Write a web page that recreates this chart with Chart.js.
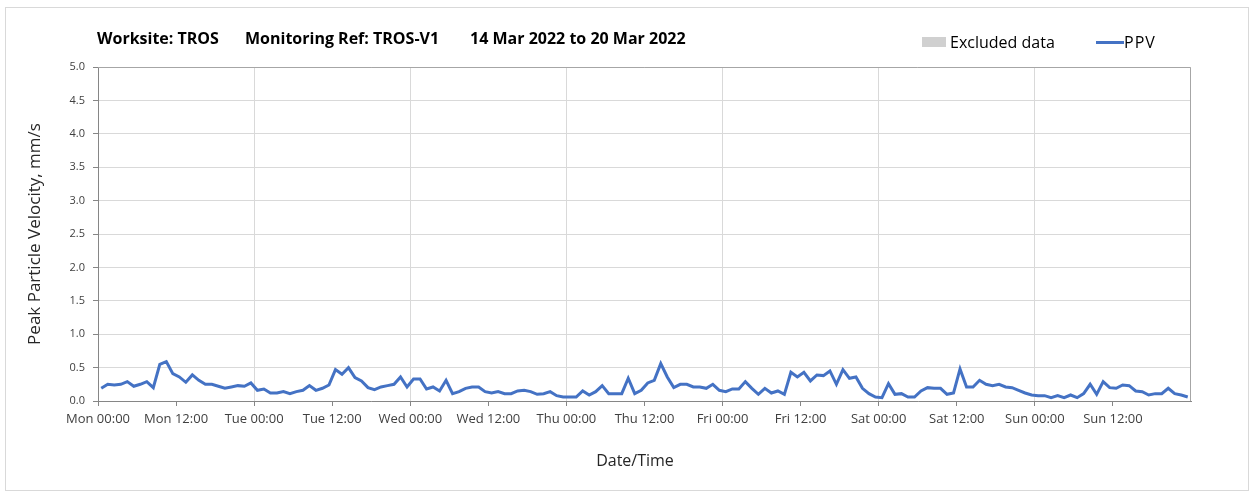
<!DOCTYPE html>
<html>
<head>
<meta charset="utf-8">
<title>PPV TROS-V1</title>
<script src="https://cdn.jsdelivr.net/npm/chart.js@4.4.1/dist/chart.umd.min.js"></script>
<style>
  html, body { margin: 0; padding: 0; background: #fff; }
  #wrap { position: relative; width: 1253px; height: 495px; font-family: "Open Sans", sans-serif; }
  #frame { position: absolute; left: 5px; top: 7px; width: 1242px; height: 482px; border: 1px solid #d9d9d9; pointer-events: none; }
  .head { position: absolute; top: 27px; font-size: 16px; font-weight: bold; color: #000; white-space: nowrap; }
  .leg { position: absolute; top: 31px; font-size: 16px; color: #000; white-space: nowrap; }
  .swatch { position: absolute; }
  #xtitle { position: absolute; top: 449px; left: 635px; transform: translateX(-50%); font-size: 16px; color: #262626; white-space: nowrap; }
  canvas { position: absolute; left: 0; top: 0; }
</style>
</head>
<body>
<div id="wrap">
  <canvas id="chart" width="1253" height="495"></canvas>
  <div id="frame"></div>
  <div class="head" style="left:97px">Worksite: TROS</div>
  <div class="head" style="left:245px">Monitoring Ref: TROS-V1</div>
  <div class="head" style="left:470px">14 Mar 2022 to 20 Mar 2022</div>
  <div class="swatch" style="left:922px;top:37px;width:24px;height:10px;background:#d0d0d0"></div>
  <div class="leg" style="left:950px">Excluded data</div>
  <div class="swatch" style="left:1096px;top:41px;width:28px;height:3px;background:#4472c4"></div>
  <div class="leg" style="left:1124px;letter-spacing:1px">PPV</div>
  <div id="xtitle">Date/Time</div>
</div>
<script>
// hourly PPV readings, Mon 14 Mar 00:00 -> Sun 20 Mar 23:00 (mm/s)
const ppv = [
  0.19, 0.25, 0.24, 0.25, 0.29, 0.22, 0.25, 0.29, 0.20, 0.55, 0.59, 0.41,
  0.36, 0.28, 0.39, 0.31, 0.25, 0.25, 0.22, 0.19, 0.21, 0.23, 0.22, 0.27,
  0.16, 0.18, 0.12, 0.12, 0.14, 0.11, 0.14, 0.16, 0.23, 0.16, 0.19, 0.24,
  0.47, 0.40, 0.50, 0.35, 0.30, 0.20, 0.17, 0.21, 0.23, 0.25, 0.36, 0.21,
  0.33, 0.33, 0.18, 0.21, 0.15, 0.31, 0.11, 0.14, 0.19, 0.21, 0.21, 0.14,
  0.12, 0.14, 0.11, 0.11, 0.15, 0.16, 0.14, 0.10, 0.11, 0.14, 0.08, 0.06,
  0.06, 0.06, 0.15, 0.09, 0.14, 0.23, 0.11, 0.11, 0.11, 0.34, 0.11, 0.16,
  0.27, 0.31, 0.56, 0.36, 0.20, 0.25, 0.25, 0.21, 0.21, 0.19, 0.25, 0.16,
  0.14, 0.18, 0.18, 0.29, 0.19, 0.10, 0.19, 0.12, 0.15, 0.10, 0.43, 0.36,
  0.43, 0.30, 0.39, 0.38, 0.45, 0.25, 0.47, 0.34, 0.36, 0.19, 0.11, 0.06,
  0.05, 0.26, 0.10, 0.11, 0.06, 0.06, 0.15, 0.20, 0.19, 0.19, 0.10, 0.12,
  0.48, 0.21, 0.21, 0.31, 0.25, 0.23, 0.25, 0.21, 0.20, 0.16, 0.12, 0.09,
  0.08, 0.08, 0.05, 0.08, 0.05, 0.09, 0.05, 0.11, 0.25, 0.10, 0.29, 0.20,
  0.19, 0.24, 0.23, 0.15, 0.14, 0.09, 0.11, 0.11, 0.19, 0.11, 0.09, 0.06
]

const xTickLabels = [
  'Mon 00:00', 'Mon 12:00', 'Tue 00:00', 'Tue 12:00', 'Wed 00:00', 'Wed 12:00', 'Thu 00:00',
  'Thu 12:00', 'Fri 00:00', 'Fri 12:00', 'Sat 00:00', 'Sat 12:00', 'Sun 00:00', 'Sun 12:00'
]
const yMax = 5
const yStep = 0.5

// draws the box round the plot area
const plotFrame = {
  id: 'plotFrame',
  afterDraw(chart) {
    const { ctx, chartArea: a } = chart
    ctx.save()
    ctx.strokeStyle = '#a6a6a6'
    ctx.lineWidth = 1
    ctx.beginPath()
    ctx.moveTo(a.left, a.top + 0.5)
    ctx.lineTo(a.right - 0.5, a.top + 0.5)
    ctx.lineTo(a.right - 0.5, a.bottom)
    ctx.stroke()
    ctx.restore()
  }
}

const ctx = document.getElementById('chart').getContext('2d')
new Chart(ctx, {
  type: 'line',
  data: {
    datasets: [{
      label: 'PPV',
      data: ppv.map((v, i) => ({ x: i + 0.5, y: v })),
      borderColor: '#4472c4',
      borderWidth: 3,
      pointRadius: 0,
      tension: 0,
      fill: false
    }]
  },
  options: {
    responsive: false,
    animation: false,
    devicePixelRatio: 1,
    layout: { padding: { top: 67, right: 62, left: 0, bottom: 0 } },
    plugins: {
      legend: { display: false },
      title: { display: false },
      tooltip: { enabled: false }
    },
    scales: {
      x: {
        type: 'linear',
        min: 0,
        max: 168,
        afterFit: s => { s.height = 94 },
        afterBuildTicks: s => { s.ticks = xTickLabels.map((t, i) => ({ value: i * 12 })) },
        ticks: {
          autoSkip: false,
          maxRotation: 0,
          padding: 5,
          color: '#404040',
          font: { family: 'Open Sans', size: 13 },
          callback: (v) => xTickLabels[v / 12] || ''
        },
        grid: {
          color: c => (c.tick && c.tick.value % 24 === 0 && c.tick.value > 0) ? '#d9d9d9' : 'rgba(0,0,0,0)',
          tickColor: '#868686',
          tickLength: 5,
          drawOnChartArea: true
        },
        border: { color: '#868686', width: 1 }
      },
      y: {
        min: 0,
        max: yMax,
        afterFit: s => { s.width = 98 },
        ticks: {
          stepSize: yStep,
          padding: 8,
          color: '#404040',
          font: { family: 'Open Sans', size: 11 },
          callback: v => v.toFixed(1)
        },
        grid: { color: '#d9d9d9', tickColor: '#868686', tickLength: 5 },
        border: { color: '#868686', width: 1 },
        title: {
          display: true,
          text: 'Peak Particle Velocity, mm/s',
          color: '#262626',
          font: { family: 'Open Sans', size: 17 },
          padding: { top: 25, bottom: 0 }
        }
      }
    }
  },
  plugins: [plotFrame]
})
</script>
</body>
</html>
